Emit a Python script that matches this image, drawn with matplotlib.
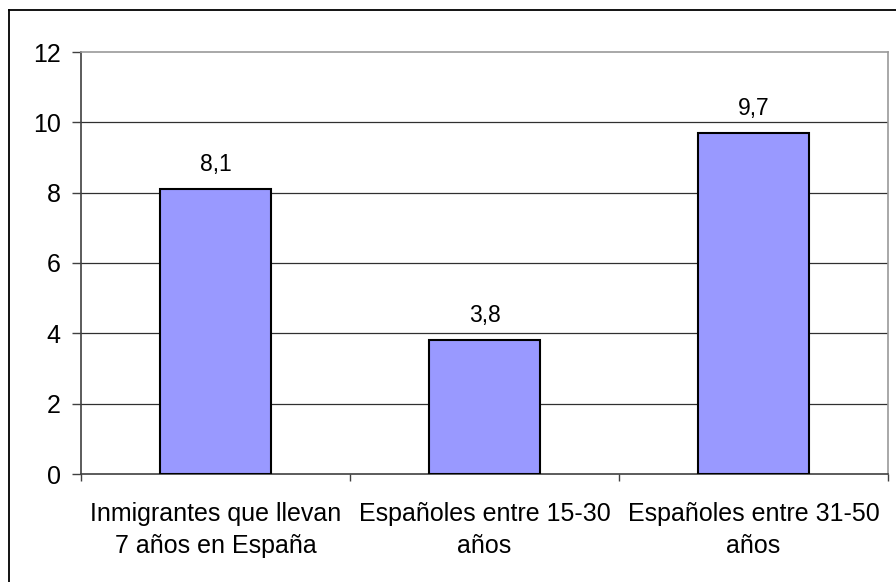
import matplotlib.pyplot as plt
from matplotlib.lines import Line2D

plt.rcParams["font.family"] = ["Liberation Sans", "DejaVu Sans"]

categories = ["Inmigrantes que llevan\n7 años en España",
              "Españoles entre 15-30\naños",
              "Españoles entre 31-50\naños"]
values = [8.1, 3.8, 9.7]
value_labels = ["8,1", "3,8", "9,7"]
y_ticks = [0, 2, 4, 6, 8, 10, 12]

fig = plt.figure(figsize=(8.96, 5.82), dpi=100)
ax = fig.add_axes([81 / 896, 108 / 582, 807 / 896, 422 / 582])

x = range(len(categories))
ax.bar(x, values, width=0.41, color="#9999FF", edgecolor="black",
       linewidth=1.5, zorder=3)

for xi, v, lab in zip(x, values, value_labels):
    ax.annotate(lab, (xi, v), xytext=(0, 13), textcoords="offset points",
                ha="center", va="baseline", fontsize=16.5)

ax.set_xlim(-0.5, 2.5)
ax.set_ylim(0, 12)
ax.set_yticks(y_ticks)
ax.set_yticklabels([str(t) for t in y_ticks], fontsize=18)
ax.tick_params(axis="y", direction="out", length=6.5, width=1, pad=8,
               color="#404040")

# category separators as major ticks, labels on minor ticks
ax.set_xticks([-0.5, 0.5, 1.5, 2.5])
ax.set_xticklabels([])
ax.set_xticks(list(x), minor=True)
ax.set_xticklabels(categories, minor=True, fontsize=18)
for lab in ax.get_xticklabels(minor=True):
    lab.set_linespacing(1.45)
ax.tick_params(axis="x", which="major", direction="out", length=5,
               width=1, color="#404040")
ax.tick_params(axis="x", which="minor", length=0, pad=20)

for t in y_ticks[1:-1]:
    ax.axhline(t, color="#303030", linewidth=0.9, zorder=1)

ax.spines["left"].set_color("#404040")
ax.spines["bottom"].set_color("#404040")
ax.spines["top"].set_color("#999999")
ax.spines["right"].set_color("#999999")
for s in ax.spines.values():
    s.set_linewidth(1.2)

# outer chart border (only top and left are inside the picture)
fig.add_artist(Line2D([9 / 896, 1.01], [1 - 10 / 582, 1 - 10 / 582],
                      transform=fig.transFigure, color="black", linewidth=1.3))
fig.add_artist(Line2D([9 / 896, 9 / 896], [1 - 10 / 582, -0.01],
                      transform=fig.transFigure, color="black", linewidth=1.3))

fig.savefig("out.png", dpi=100)
